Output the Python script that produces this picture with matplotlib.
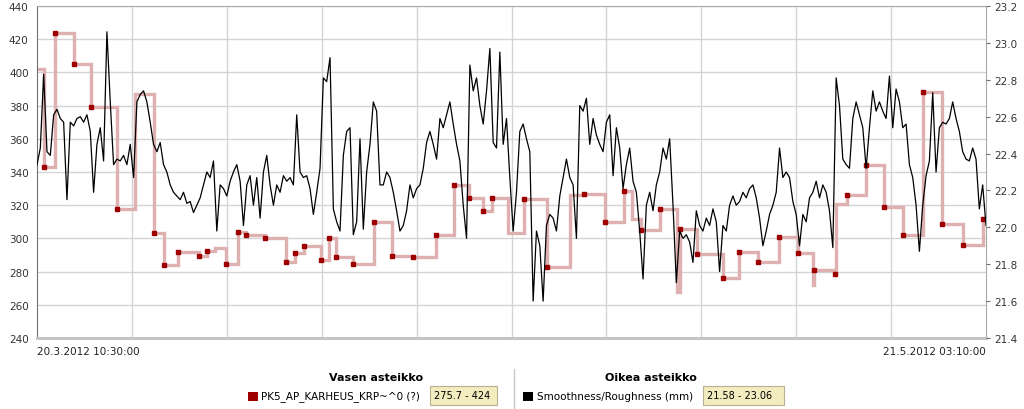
import numpy as np
import matplotlib.pyplot as plt
from matplotlib.patches import Rectangle
from matplotlib.lines import Line2D

# x positions are in grid units: 0 = 20.3.2012 10:30:00, 10 = 21.5.2012 03:10:00
start_label = "20.3.2012 10:30:00"
end_label = "21.5.2012 03:10:00"

# PK5_AP_KARHEUS (left scale), step series
pink_x = [0.0, 0.077, 0.193, 0.390, 0.566, 0.843, 1.033, 1.236, 1.335, 1.483,
          1.704, 1.795, 1.876, 1.995, 2.121, 2.202, 2.403, 2.621, 2.722, 2.817,
          2.993, 3.074, 3.154, 3.330, 3.548, 3.744, 3.965, 4.208, 4.394, 4.552,
          4.697, 4.791, 4.966, 5.135, 5.371, 5.616, 5.764, 5.985, 6.185, 6.266,
          6.361, 6.568, 6.741, 6.776, 6.958, 7.225, 7.400, 7.601, 7.819, 8.016,
          8.180, 8.190, 8.409, 8.420, 8.532, 8.732, 8.928, 9.128, 9.339, 9.536,
          9.758, 9.972, 10.0]
pink_v = [402, 343, 424, 405, 379, 318, 387, 303, 284, 292,
          289.5, 292.5, 294.5, 284.4, 304, 302, 300, 286, 291, 295.5,
          287, 300.5, 289, 284.5, 310, 289.3, 288.7, 302, 332, 324.6,
          316.6, 324.6, 303, 324, 283, 326, 326.7, 310, 328.7, 311.7,
          305, 317.6, 268, 305.5, 290.7, 276.2, 291.9, 285.9, 300.8, 291.3,
          272, 280.8, 278.8, 321, 326.3, 344, 319.2, 301.8, 387.9, 308.5,
          296, 311.5, 311.5]
pink_marked = [0, 1, 1, 1, 1, 1, 0, 1, 1, 1,
               1, 1, 0, 1, 1, 1, 1, 1, 1, 1,
               1, 1, 1, 1, 1, 1, 1, 1, 1, 1,
               1, 1, 0, 1, 1, 0, 1, 1, 1, 0,
               1, 1, 0, 1, 1, 1, 1, 1, 1, 1,
               0, 1, 1, 0, 1, 1, 1, 1, 1, 1,
               1, 1, 0]

# Smoothness/Roughness (mm) (right scale), sampled evenly over the window
rough_1 = [22.34, 22.43, 22.83, 22.41, 22.39, 22.61, 22.64, 22.59, 22.57, 22.15,
           22.57, 22.55, 22.59, 22.60, 22.57, 22.61, 22.52, 22.19, 22.45, 22.54,
           22.36, 23.06, 22.68, 22.34, 22.37, 22.36, 22.39, 22.34, 22.45, 22.27,
           22.68, 22.72, 22.74, 22.68, 22.57, 22.45, 22.41, 22.46, 22.34, 22.30,
           22.23, 22.19, 22.17, 22.15, 22.19, 22.13, 22.14, 22.08]
rough_2 = [22.12, 22.16, 22.23, 22.30, 22.27, 22.36, 21.98, 22.23, 22.21, 22.17,
           22.25, 22.30, 22.34, 22.25, 22.01, 22.23, 22.28, 22.12, 22.27, 22.05,
           22.30, 22.39, 22.23, 22.12, 22.23, 22.19, 22.28, 22.25, 22.27, 22.23,
           22.61, 22.30, 22.27, 22.28, 22.21, 22.07, 22.19, 22.32, 22.81, 22.79,
           22.92, 22.10, 22.03, 21.98, 22.39, 22.52, 22.54, 21.96]
rough_3 = [22.03, 22.48, 21.99, 22.30, 22.45, 22.68, 22.63, 22.23, 22.23, 22.30,
           22.27, 22.19, 22.09, 21.98, 22.01, 22.09, 22.23, 22.16, 22.21, 22.23,
           22.32, 22.46, 22.52, 22.45, 22.37, 22.59, 22.54, 22.61, 22.68, 22.56,
           22.45, 22.36, 22.12, 21.94, 22.88, 22.74, 22.81, 22.66, 22.56, 22.74,
           22.97, 22.46, 22.43, 22.95, 22.45, 22.59, 22.27, 21.98]
rough_4 = [22.19, 22.52, 22.56, 22.48, 22.41, 21.60, 21.98, 21.90, 21.60, 22.01,
           22.07, 22.05, 21.98, 22.17, 22.27, 22.37, 22.27, 22.23, 21.94, 22.66,
           22.63, 22.70, 22.45, 22.59, 22.50, 22.45, 22.41, 22.57, 22.61, 22.28,
           22.54, 22.43, 22.21, 22.34, 22.43, 22.25, 22.19, 21.98, 21.72, 22.12,
           22.19, 22.09, 22.23, 22.30, 22.43, 22.37, 22.48, 22.12]
rough_5 = [21.70, 21.98, 21.94, 21.96, 21.92, 21.81, 22.09, 22.01, 21.98, 22.05,
           22.01, 22.10, 22.03, 21.76, 22.01, 21.98, 22.12, 22.17, 22.12, 22.14,
           22.19, 22.16, 22.21, 22.23, 22.16, 22.05, 21.90, 21.98, 22.07, 22.12,
           22.19, 22.43, 22.27, 22.30, 22.27, 22.14, 22.07, 21.90, 22.07, 22.03,
           22.16, 22.19, 22.25, 22.16, 22.23, 22.19, 22.09, 21.89]
rough_6 = [22.81, 22.66, 22.37, 22.34, 22.32, 22.59, 22.68, 22.61, 22.54, 22.32,
           22.54, 22.74, 22.63, 22.68, 22.63, 22.59, 22.82, 22.54, 22.75, 22.68,
           22.54, 22.56, 22.34, 22.27, 22.12, 21.87, 22.12, 22.28, 22.36, 22.73,
           22.30, 22.54, 22.57, 22.56, 22.59, 22.68, 22.59, 22.52, 22.41, 22.37,
           22.36, 22.43, 22.37, 22.10, 22.23, 22.01]

left_ticks = [240, 260, 280, 300, 320, 340, 360, 380, 400, 420, 440]
right_ticks = [21.4, 21.6, 21.8, 22.0, 22.2, 22.4, 22.6, 22.8, 23.0, 23.2]

left_name = "PK5_AP_KARHEUS_KRP~^0 (?)"
left_range = "275.7 - 424"
right_name = "Smoothness/Roughness (mm)"
right_range = "21.58 - 23.06"

W, H = 1024, 410


def fx(px):
    return px / W


def fy(py):
    return 1 - py / H


fig = plt.figure(figsize=(W / 100, H / 100), dpi=100)
ax = fig.add_axes([fx(37), fy(339), fx(949), 332 / H])

# grid + frame
ax.set_xlim(0, 10)
ax.set_ylim(240, 440)
ax.set_xticks(range(1, 10))
ax.set_xticklabels([])
ax.set_yticks(left_ticks)
ax.set_yticklabels([str(t) for t in left_ticks], fontsize=7.5, color="#333333")
ax.tick_params(axis="both", length=0, pad=6)
ax.grid(True, color="#d4d4d4", linewidth=1.0)
ax.set_axisbelow(True)
ax.spines["left"].set_color("#707070")
ax.spines["top"].set_color("#a8a8a8")
ax.spines["right"].set_color("#a8a8a8")
ax.spines["bottom"].set_color("#c4c4c4")
ax.spines["bottom"].set_linewidth(2.2)

# left-scale step series
ax.plot(pink_x, pink_v, drawstyle="steps-post", color="#deb0b0", linewidth=2.4,
        marker="s", markersize=2.4, markerfacecolor="#9e0000",
        markeredgecolor="#9e0000", markevery=[bool(m) for m in pink_marked],
        solid_joinstyle="miter", zorder=2)

# right-scale noisy series
ax2 = ax.twinx()
rough = rough_1 + rough_2 + rough_3 + rough_4 + rough_5 + rough_6
rough_x = np.linspace(0, 10, len(rough))
ax2.plot(rough_x, rough, color="black", linewidth=0.9)
ax2.set_ylim(21.4, 23.2)
ax2.set_yticks(right_ticks)
ax2.set_yticklabels(["%.1f" % t for t in right_ticks], fontsize=7.5, color="#333333")
ax2.tick_params(axis="y", length=3, width=0.8, color="#707070", pad=3)
for s in ax2.spines.values():
    s.set_visible(False)

ax.text(0, -0.025, start_label, transform=ax.transAxes, ha="left", va="top",
        fontsize=7.5, color="#222222")
ax.text(1, -0.025, end_label, transform=ax.transAxes, ha="right", va="top",
        fontsize=7.5, color="#222222")

# legend area
fig.text(fx(423), fy(378), "Vasen asteikko", ha="right", va="center",
         fontsize=8, weight="bold")
fig.patches.append(Rectangle((fx(248), fy(402)), fx(10), 9 / H, transform=fig.transFigure,
                             facecolor="#9e0000", edgecolor="none", figure=fig))
fig.text(fx(261), fy(397), left_name, ha="left", va="center", fontsize=7.5, zorder=1)
fig.patches.append(Rectangle((fx(430), fy(406)), fx(67), 19 / H, transform=fig.transFigure,
                             facecolor="#f3ecbf", edgecolor="#b8b090", linewidth=0.8,
                             figure=fig, zorder=4))
fig.text(fx(434), fy(396.5), left_range, ha="left", va="center", fontsize=7, zorder=5)

fig.lines.append(Line2D([fx(514), fx(514)], [fy(370), fy(410)], transform=fig.transFigure,
                        color="#c8c8c8", linewidth=1, figure=fig))

fig.text(fx(697), fy(378), "Oikea asteikko", ha="right", va="center",
         fontsize=8, weight="bold")
fig.patches.append(Rectangle((fx(523), fy(402)), fx(10), 9 / H, transform=fig.transFigure,
                             facecolor="black", edgecolor="none", figure=fig))
fig.text(fx(537), fy(397), right_name, ha="left", va="center", fontsize=7.5, zorder=1)
fig.patches.append(Rectangle((fx(703), fy(406)), fx(81), 19 / H, transform=fig.transFigure,
                             facecolor="#f3ecbf", edgecolor="#b8b090", linewidth=0.8,
                             figure=fig, zorder=4))
fig.text(fx(707), fy(396.5), right_range, ha="left", va="center", fontsize=7, zorder=5)

fig.savefig("out.png", dpi=100)
